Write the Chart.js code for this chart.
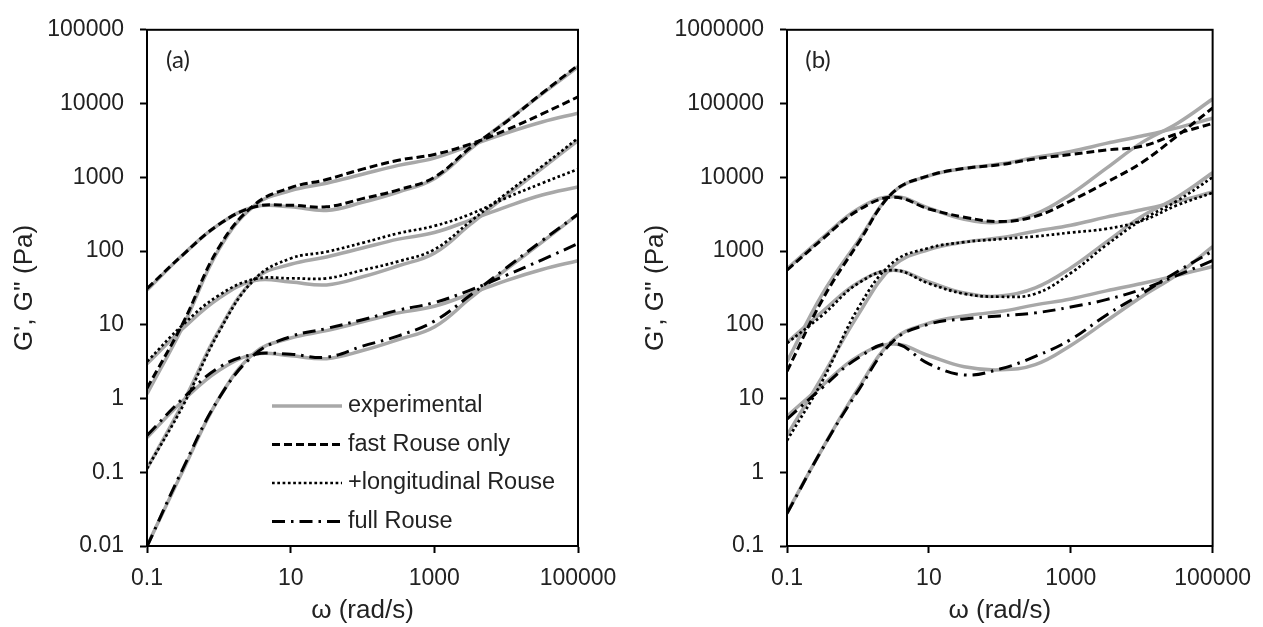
<!DOCTYPE html>
<html>
<head>
<meta charset="utf-8">
<script src="https://cdn.jsdelivr.net/npm/chart.js@4.4.1/dist/chart.umd.min.js"></script>
<style>
  html, body { margin: 0; padding: 0; background: #fff; }
  #wrap { position: relative; width: 1263px; height: 627px; }
  .panel { position: absolute; top: 0; }
  #panelA { left: 0; }
  #panelB { left: 631px; }
</style>
</head>
<body>
<div id="wrap">
  <div class="panel" id="panelA"><canvas id="chartA" width="631" height="627"></canvas></div>
  <div class="panel" id="panelB"><canvas id="chartB" width="632" height="627"></canvas></div>
</div>
<script>
// frequency grid (rad/s), half-decade steps
const omega = [0.1, 0.316, 1, 3.16, 10, 31.6, 100, 316, 1000, 3160, 10000, 31600, 100000];

const xTicks = [0.1, 10, 1000, 100000];
const yTicksA = [0.01, 0.1, 1, 10, 100, 1000, 10000, 100000];
const yTicksB = [0.1, 1, 10, 100, 1000, 10000, 100000, 1000000];

const legendLabels = ["experimental", "fast Rouse only", "+longitudinal Rouse", "full Rouse"];

// ---- panel (a) ----
// top pair, fast Rouse only
const aExpG2Top  = [29.5, 89, 229, 398, 398, 355, 457, 631, 955, 2400, 5750, 13500, 31600];
const aFastG2    = [30.9, 89, 229, 398, 417, 398, 513, 676, 1000, 2510, 5620, 13800, 33100];
const aExpG1Top  = [1.15, 9.5, 105, 417, 661, 832, 1100, 1450, 1820, 2690, 3980, 5620, 7410];
const aFastG1    = [1.38, 10.5, 112, 427, 724, 933, 1290, 1700, 2040, 2820, 4370, 7240, 12300];
// middle pair, +longitudinal Rouse
const aExpG2Mid  = [2.95, 8.9, 22.9, 39.8, 38, 34.7, 44.7, 63.1, 93.3, 229, 562, 1320, 3160];
const aLongG2    = [3.16, 10, 25.1, 41.7, 42.7, 42.7, 55, 72.4, 105, 251, 603, 1410, 3390];
const aExpG1Mid  = [0.112, 0.871, 8.3, 41.7, 66.1, 83.2, 110, 145, 178, 263, 398, 575, 741];
const aLongG1    = [0.112, 0.794, 7.94, 41.7, 79.4, 97.7, 129, 174, 219, 316, 525, 832, 1290];
// bottom pair, full Rouse
const aExpG2Low  = [0.295, 0.933, 2.4, 3.98, 3.8, 3.47, 4.47, 6.31, 9.33, 22.9, 56.2, 132, 316];
const aFullG2    = [0.316, 1.0, 2.63, 3.98, 3.98, 3.63, 5.13, 7.08, 11.2, 25.1, 58.9, 138, 316];
const aExpG1Low  = [0.01, 0.105, 1.0, 4.17, 6.61, 8.32, 11, 14.5, 17.8, 26.3, 39.8, 56.2, 74.1];
const aFullG1    = [0.0098, 0.112, 1.0, 3.98, 6.92, 8.91, 11.7, 15.8, 20, 29.5, 46.8, 75.9, 126];

// ---- panel (b) ----
const bExpG2Top  = [575, 1510, 3720, 5500, 3800, 2690, 2450, 3160, 5890, 13200, 29500, 53700, 115000];
const bFastG2    = [550, 1450, 3550, 5370, 3720, 2880, 2510, 2950, 4790, 8510, 15800, 36300, 87100];
const bExpG1Top  = [31.6, 263, 1350, 6310, 10500, 13200, 15100, 18600, 22400, 28800, 36300, 46800, 63100];
const bFastG1    = [23.4, 219, 1260, 6310, 10500, 13200, 14800, 17800, 20400, 23400, 26300, 38900, 53700];

const bExpG2Mid  = [57.5, 151, 372, 550, 380, 269, 245, 316, 589, 1320, 2950, 5370, 11500];
const bLongG2    = [56.2, 135, 363, 550, 363, 263, 240, 263, 501, 1200, 2630, 4790, 10000];
const bExpG1Mid  = [3.16, 20, 135, 631, 1050, 1320, 1510, 1860, 2240, 2880, 3630, 4680, 6310];
const bLongG1    = [2.69, 17.4, 166, 708, 1100, 1320, 1450, 1580, 1780, 2000, 2570, 4170, 6170];

const bExpG2Low  = [5.75, 15.1, 37.2, 55, 38, 26.9, 24.5, 28.8, 52.5, 112, 240, 479, 1150];
const bFullG2    = [5.25, 14.1, 35.5, 56.2, 29.5, 20.9, 25.1, 37.2, 63.1, 135, 263, 525, 1000];
const bExpG1Low  = [0.282, 2.09, 13.5, 63.1, 105, 132, 151, 186, 224, 288, 363, 468, 617];
const bFullG1    = [0.275, 2.09, 12.6, 60.3, 102, 120, 132, 145, 174, 219, 302, 468, 741];

const styles = {
  exp:  { color: "#a8a8a8", width: 3.5, dash: [] },
  fast: { color: "#000000", width: 3, dash: [8, 4] },
  long: { color: "#000000", width: 2.7, dash: [2.7, 2.6] },
  full: { color: "#000000", width: 3, dash: [13, 6, 2.5, 6] }
};

Chart.defaults.font.family = "'Liberation Sans', Arial, sans-serif";
Chart.defaults.color = "#222";

function line(values, kind) {
  const s = styles[kind];
  return {
    data: omega.map((w, i) => ({ x: w, y: values[i] })),
    borderColor: s.color,
    borderWidth: s.width,
    borderDash: s.dash,
    pointRadius: 0,
    tension: 0.4,
    fill: false,
    order: kind === "exp" ? 2 : 1
  };
}

// plot box + panel letter
const boxPlugin = {
  id: "box",
  afterDatasetsDraw(chart, args, opts) {
    const { ctx, chartArea: a } = chart;
    ctx.save();
    ctx.strokeStyle = "#000";
    ctx.lineWidth = 2;
    ctx.strokeRect(a.left, a.top, a.right - a.left, a.bottom - a.top);
    ctx.fillStyle = "#222";
    ctx.font = "24px Lato, 'Open Sans', sans-serif";
    ctx.textAlign = "center";
    ctx.textBaseline = "middle";
    ctx.fillText(opts.letter, a.left + 31, a.top + 30);
    ctx.restore();
  }
};

const legendPlugin = {
  id: "rouseLegend",
  afterDraw(chart, args, opts) {
    if (!opts.show) return;
    const ctx = chart.ctx;
    ctx.save();
    ["exp", "fast", "long", "full"].forEach((k, i) => {
      const y = opts.y0 + i * opts.dy;
      const s = styles[k];
      ctx.beginPath();
      ctx.setLineDash(s.dash);
      ctx.lineWidth = s.width;
      ctx.strokeStyle = s.color;
      ctx.moveTo(opts.x0, y);
      ctx.lineTo(opts.x1, y);
      ctx.stroke();
      ctx.setLineDash([]);
      ctx.fillStyle = "#222";
      ctx.font = "23.5px 'Liberation Sans', Arial, sans-serif";
      ctx.textBaseline = "middle";
      ctx.fillText(legendLabels[i], opts.tx, y);
    });
    ctx.restore();
  }
};

function makeChart(id, datasets, yMin, yMax, yTicks, yWidth, rightPad, letter, showLegend) {
  return new Chart(document.getElementById(id), {
    type: "line",
    data: { datasets },
    plugins: [boxPlugin, legendPlugin],
    options: {
      responsive: false,
      animation: false,
      layout: { padding: { top: 26, right: rightPad, left: 0, bottom: 0 } },
      plugins: {
        legend: { display: false },
        tooltip: { enabled: false },
        box: { letter },
        rouseLegend: { show: showLegend, x0: 272, x1: 342, tx: 348, y0: 406, dy: 38.5 }
      },
      scales: {
        x: {
          type: "logarithmic",
          min: 0.1,
          max: 100000,
          afterBuildTicks: s => { s.ticks = xTicks.map(v => ({ value: v })); },
          afterFit: s => { s.height = 81; },
          ticks: { autoSkip: false, maxRotation: 0, padding: 12, font: { size: 23 }, callback: v => String(v) },
          grid: { drawOnChartArea: false, drawTicks: true, tickLength: 7, tickWidth: 2, tickColor: "#000" },
          border: { display: true, color: "#000", width: 2 },
          title: { display: true, text: "ω (rad/s)", font: { size: 26 }, padding: { top: 0, bottom: 1 } }
        },
        y: {
          type: "logarithmic",
          min: yMin,
          max: yMax,
          afterBuildTicks: s => { s.ticks = yTicks.map(v => ({ value: v })); },
          afterFit: s => { s.width = yWidth; },
          ticks: { autoSkip: false, padding: 16, font: { size: 23 }, callback: v => String(v) },
          grid: { drawOnChartArea: false, drawTicks: true, tickLength: 7, tickWidth: 2, tickColor: "#000" },
          border: { display: true, color: "#000", width: 2 },
          title: { display: true, text: "G', G'' (Pa)", font: { size: 26 }, padding: { top: 9, bottom: 0 } }
        }
      }
    }
  });
}

makeChart("chartA", [
  line(aFastG2, "fast"), line(aFastG1, "fast"),
  line(aLongG2, "long"), line(aLongG1, "long"),
  line(aFullG2, "full"), line(aFullG1, "full"),
  line(aExpG2Top, "exp"), line(aExpG1Top, "exp"),
  line(aExpG2Mid, "exp"), line(aExpG1Mid, "exp"),
  line(aExpG2Low, "exp"), line(aExpG1Low, "exp")
], 0.01, 100000, yTicksA, 147, 53, "(a)", true);

makeChart("chartB", [
  line(bFastG2, "fast"), line(bFastG1, "fast"),
  line(bLongG2, "long"), line(bLongG1, "long"),
  line(bFullG2, "full"), line(bFullG1, "full"),
  line(bExpG2Top, "exp"), line(bExpG1Top, "exp"),
  line(bExpG2Mid, "exp"), line(bExpG1Mid, "exp"),
  line(bExpG2Low, "exp"), line(bExpG1Low, "exp")
], 0.1, 1000000, yTicksB, 156, 44, "(b)", false);
</script>
</body>
</html>
